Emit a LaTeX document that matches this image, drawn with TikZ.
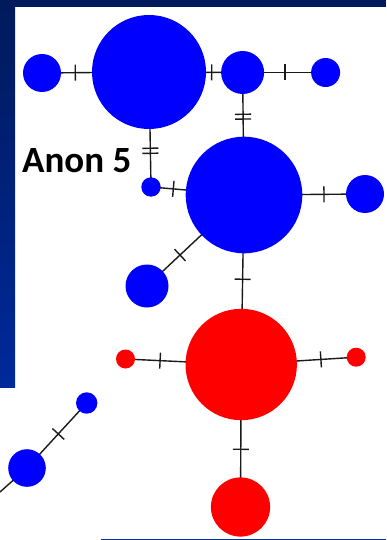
\documentclass[tikz,border=0pt]{standalone}
\usepackage{fontspec}
\setmainfont{Carlito}
\usetikzlibrary{decorations.markings}
\definecolor{navy}{HTML}{011A5B}
\definecolor{navylow}{HTML}{00299B}
\definecolor{hblue}{HTML}{0000FF}
\definecolor{hred}{HTML}{FF0000}
\definecolor{linecol}{HTML}{1A1A1A}
\definecolor{rulecol}{HTML}{0033A0}
\pgfdeclarelayer{bg}
\pgfdeclarelayer{edges}
\pgfsetlayers{bg,edges,main}
\tikzset{
  hap/.style={circle, inner sep=0pt, outer sep=0pt, draw=none, minimum size=#1},
  bl/.style={hap=#1, fill=hblue},
  rd/.style={hap=#1, fill=hred},
  edge/.style={draw=linecol, line width=1.4pt},
  tk/.style={postaction={decorate, decoration={markings,
      mark=at position #1 with {\draw[edge] (0pt,-8pt) -- (0pt,8pt);}}}},
  dtk/.style 2 args={postaction={decorate, decoration={markings,
      mark=at position #1 with {\draw[edge] (0pt,-8pt) -- (0pt,8pt);},
      mark=at position #2 with {\draw[edge] (0pt,-8pt) -- (0pt,8pt);}}}}
}
\begin{document}
\begin{tikzpicture}[x=1pt, y=-1pt]
\useasboundingbox (0,0) rectangle (386,540);
\begin{pgfonlayer}{bg}
  \fill[white] (0,0) rectangle (386,540);
  \fill[navy] (0,0) rectangle (386,6.7);
  \shade[top color=navy, bottom color=navylow] (0,0) rectangle (15,387);
\end{pgfonlayer}

% haplotype circles
\node[bl=38pt]    (A)  at (42,73) {};
\node[bl=114pt]   (B)  at (149,72) {};
\node[bl=43pt]    (C)  at (242.6,72.5) {};
\node[bl=29pt]    (D)  at (325.6,72.5) {};
\node[bl=19.4pt]  (E)  at (151,187) {};
\node[bl=116.6pt] (F)  at (244,195) {};
\node[bl=38pt]    (G)  at (365,194) {};
\node[bl=43pt]    (H)  at (147,286) {};
\node[rd=111.4pt] (R)  at (241.2,364.5) {};
\node[rd=19pt]    (RL) at (125.5,359) {};
\node[rd=19pt]    (RR) at (356.2,357.2) {};
\node[rd=59.2pt]  (RB) at (240.5,507) {};
\node[bl=21.4pt]  (S)  at (86.7,403) {};
\node[bl=37.6pt]  (T)  at (27,468) {};
\coordinate (Tend) at (0,492);

\node[anchor=base west, inner sep=0pt, font=\bfseries\fontsize{37}{44}\selectfont] (lab) at (22,172.7) {Anon 5};

% connectors
\begin{pgfonlayer}{edges}
  \draw[edge, tk=0.311] (A.center) -- (B.center);
  \draw[edge, tk=0.670] (B.center) -- (C.center);
  \draw[edge, tk=0.512] (C.center) -- (D.center);
  \draw[edge, dtk={0.341}{0.380}] (C.center) -- (F.center);
  \draw[edge, dtk={0.663}{0.707}] (B.center) -- (E.center);
  \draw[edge, tk=0.240] (E.center) -- (F.center);
  \draw[edge, tk=0.661] (F.center) -- (G.center);
  \draw[edge, tk=0.660] (F.center) -- (H.center);
  \draw[edge, tk=0.497] (F.center) -- (R.center);
  \draw[edge, tk=0.701] (R.center) -- (RL.center);
  \draw[edge, tk=0.693] (R.center) -- (RR.center);
  \draw[edge, tk=0.595] (R.center) -- (RB.center);
  \draw[edge, tk=0.476] (S.center) -- (T.center);
  \draw[edge] (T.center) -- (Tend);
\end{pgfonlayer}

\coordinate (ruleL) at (101,539.3);
\coordinate (ruleR) at (386,539.3);
\draw[draw=rulecol, line width=1.3pt] (ruleL) -- (ruleR);
\end{tikzpicture}
\end{document}
